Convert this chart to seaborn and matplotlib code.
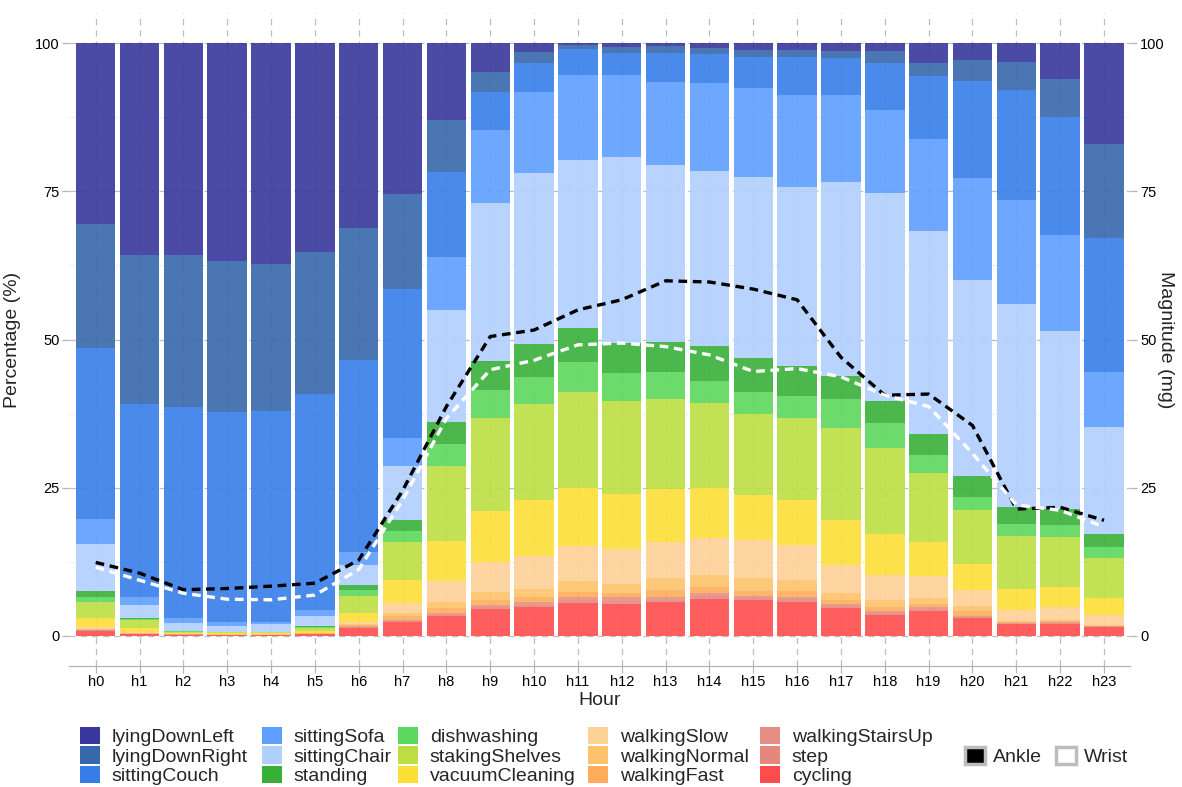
import matplotlib
matplotlib.use("Agg")
import matplotlib.pyplot as plt
from matplotlib.patches import Patch
from matplotlib.ticker import MultipleLocator
import pandas as pd
import seaborn as sns

# ---- data -------------------------------------------------------------
hour_labels = [f"h{i}" for i in range(24)]
hour_idx = list(range(24))

lyingDownLeft = [30.5, 35.7, 35.8, 36.7, 37.3, 35.2, 31.2, 25.4, 13.0, 4.8, 1.5, 0.4,
                 0.7, 0.5, 0.8, 1.2, 1.2, 1.3, 1.4, 3.3, 2.9, 3.2, 6.1, 17.0]
lyingDownRight = [20.9, 25.1, 25.6, 25.6, 24.8, 24.0, 22.3, 16.1, 8.8, 3.5, 1.9, 0.6,
                  1.0, 1.2, 1.1, 1.2, 1.2, 1.3, 1.9, 2.3, 3.5, 4.7, 6.4, 15.9]
sittingCouch = [28.9, 32.7, 35.5, 35.3, 35.5, 36.4, 32.3, 25.1, 14.3, 6.4, 4.9, 4.4,
                3.7, 4.8, 4.8, 5.2, 6.4, 6.1, 8.0, 10.6, 16.4, 18.6, 19.9, 22.5]
sittingSofa = [4.2, 1.3, 0.9, 0.8, 0.4, 1.0, 2.2, 4.7, 8.9, 12.3, 13.6, 14.3,
               13.8, 14.1, 14.9, 15.0, 15.5, 14.7, 14.0, 15.5, 17.2, 17.5, 16.2, 9.4]
sittingChair = [7.9, 2.1, 1.3, 0.9, 1.25, 1.7, 3.4, 9.1, 18.9, 26.6, 28.9, 28.4,
                31.4, 29.8, 29.5, 30.6, 30.2, 32.8, 35.1, 34.2, 33.0, 34.2, 30.0, 18.0]
standing = [1.0, 0.2, 0.08, 0.05, 0.1, 0.2, 0.8, 1.9, 3.7, 5.0, 5.6, 5.7,
            5.1, 5.1, 5.9, 5.7, 5.0, 3.9, 3.6, 3.5, 3.6, 2.9, 2.7, 2.2]
dishwashing = [0.8, 0.2, 0.07, 0.05, 0.05, 0.1, 1.0, 1.8, 3.7, 4.6, 4.5, 5.0,
               4.6, 4.5, 3.7, 3.7, 3.7, 4.8, 4.3, 3.1, 2.1, 2.0, 2.0, 1.8]
stakingShelves = [2.8, 1.4, 0.2, 0.15, 0.15, 0.5, 2.9, 6.5, 12.7, 15.8, 16.2, 16.2,
                  15.8, 15.2, 14.3, 13.7, 13.9, 15.6, 14.5, 11.6, 9.2, 9.0, 8.5, 6.8]
vacuumCleaning = [1.5, 0.6, 0.15, 0.12, 0.12, 0.35, 1.5, 3.9, 6.8, 8.6, 9.4, 9.8,
                  9.2, 8.9, 8.4, 7.6, 7.6, 7.5, 7.0, 5.8, 4.3, 3.5, 3.4, 2.9]
walkingSlow = [0.25, 0.15, 0.08, 0.06, 0.06, 0.07, 0.35, 1.65, 3.4, 5.0, 5.5, 5.9,
               5.9, 6.1, 6.3, 6.3, 5.9, 4.75, 4.1, 3.7, 2.8, 1.8, 2.1, 1.6]
walkingNormal = [0.15, 0.1, 0.04, 0.04, 0.04, 0.06, 0.25, 0.5, 1.1, 1.4, 1.5, 1.9,
                 1.6, 2.0, 2.0, 2.2, 1.9, 1.25, 1.2, 1.0, 0.8, 0.2, 0.2, 0.15]
walkingFast = [0.1, 0.05, 0.03, 0.03, 0.03, 0.05, 0.2, 0.7, 0.8, 0.8, 0.7, 0.8,
               0.7, 1.2, 1.0, 0.8, 0.9, 0.55, 0.7, 0.6, 0.8, 0.2, 0.15, 0.15]
walkingStairsUp = [0.05, 0.05, 0.02, 0.02, 0.02, 0.03, 0.1, 0.2, 0.4, 0.4, 0.6, 0.6,
                   0.6, 0.5, 0.6, 0.4, 0.4, 0.35, 0.35, 0.3, 0.15, 0.1, 0.15, 0.05]
step = [0.05, 0.05, 0.03, 0.03, 0.03, 0.04, 0.1, 0.15, 0.2, 0.3, 0.3, 0.4,
        0.5, 0.3, 0.4, 0.3, 0.5, 0.4, 0.35, 0.3, 0.15, 0.1, 0.1, 0.05]
cycling = [0.9, 0.3, 0.2, 0.15, 0.15, 0.3, 1.4, 2.3, 3.3, 4.5, 4.9, 5.6,
           5.4, 5.8, 6.3, 6.1, 5.7, 4.7, 3.5, 4.2, 3.1, 2.0, 2.1, 1.5]

# mean acceleration magnitude per hour (mg)
ankle = [12.4, 10.6, 7.8, 8.0, 8.4, 8.9, 12.8, 24.5, 38.7, 50.5, 51.6, 55.0,
         56.7, 59.9, 59.7, 58.5, 56.7, 47.0, 40.6, 40.8, 35.5, 21.4, 21.7, 19.5]
wrist = [11.6, 9.4, 7.2, 6.2, 6.1, 6.9, 11.2, 22.9, 36.7, 44.9, 46.5, 49.1,
         49.4, 48.8, 47.4, 44.6, 45.1, 43.7, 40.6, 38.7, 30.8, 22.1, 21.2, 18.4]

activities = ["lyingDownLeft", "lyingDownRight", "sittingCouch", "sittingSofa",
              "sittingChair", "standing", "dishwashing", "stakingShelves",
              "vacuumCleaning", "walkingSlow", "walkingNormal", "walkingFast",
              "walkingStairsUp", "step", "cycling"]
series = [lyingDownLeft, lyingDownRight, sittingCouch, sittingSofa, sittingChair,
          standing, dishwashing, stakingShelves, vacuumCleaning, walkingSlow,
          walkingNormal, walkingFast, walkingStairsUp, step, cycling]
colors = ["#37379c", "#3668ac", "#367de8", "#5e9efe", "#b1cffd",
          "#38b038", "#5cd85c", "#bdde42", "#fdde36", "#fed196",
          "#fec26b", "#feac59", "#e58f84", "#e6877d", "#fe4c4c"]
palette = dict(zip(activities, colors))

df = pd.DataFrame(
    [{"hour": h, "activity": name, "pct": v}
     for name, vals in zip(activities, series)
     for h, v in zip(hour_idx, vals)]
)

# ---- styling ----------------------------------------------------------
sns.set_theme(style="white")
plt.rcParams["font.family"] = ["Liberation Sans", "DejaVu Sans"]

W, H = 1182, 787
fig = plt.figure(figsize=(W / 100, H / 100), dpi=100)
ax = fig.add_axes([69.4 / W, 1 - 665.6 / H, (1130.3 - 69.4) / W, (665.6 - 13.4) / H])

sns.histplot(data=df, x="hour", weights="pct", hue="activity",
             hue_order=activities, palette=palette, multiple="stack",
             discrete=True, shrink=0.9, alpha=0.9, linewidth=0,
             legend=False, ax=ax)

ax.set_xlim(-0.6, 23.6)
ax.set_ylim(-5, 105)
ax.set_xticks(hour_idx)
ax.set_xticklabels(hour_labels)
ax.set_yticks([0, 25, 50, 75, 100])
ax.yaxis.set_minor_locator(MultipleLocator(12.5))
ax.set_axisbelow(True)
ax.grid(which="major", axis="both", linestyle=(0, (5, 4)), color="#bdbdbd", lw=0.9)
ax.grid(which="minor", axis="y", linestyle=(0, (1, 2)), color="#d8d8d8", lw=0.8)

grey = "#b5b5b5"
for side in ("top", "left", "right"):
    ax.spines[side].set_visible(False)
ax.spines["bottom"].set_color(grey)
ax.spines["bottom"].set_linewidth(0.9)
ax.tick_params(axis="both", which="major", length=5, width=0.9, color=grey,
               labelsize=10.5, labelcolor="black", pad=2, bottom=True, left=True)
ax.tick_params(which="minor", length=0)

ax.set_xlabel("Hour", fontsize=14, labelpad=2)
ax.set_ylabel("Percentage (%)", fontsize=14)
ax.yaxis.set_label_coords(-0.046, 0.5)

# ---- magnitude lines on secondary axis -------------------------------
ax2 = ax.twinx()
sns.lineplot(x=hour_idx, y=ankle, ax=ax2, color="black", lw=2.4,
             linestyle=(0, (2.6, 1.7)))
sns.lineplot(x=hour_idx, y=wrist, ax=ax2, color="white", lw=2.4,
             linestyle=(0, (2.6, 1.7)))
ax2.set_ylim(-5, 105)
ax2.set_yticks([0, 25, 50, 75, 100])
for side in ("top", "left", "right", "bottom"):
    ax2.spines[side].set_visible(False)
ax2.tick_params(axis="y", length=5, width=0.9, color=grey, labelsize=10.5,
                labelcolor="black", pad=2, right=True)
ax2.set_ylabel("Magnitude (mg)", fontsize=14, rotation=270, va="center")
ax2.yaxis.set_label_coords(1.0335, 0.5)

# ---- legends -----------------------------------------------------------
col_x = [80, 262, 398, 588, 760]
leg_kw = dict(loc="upper left", frameon=False, fontsize=14, borderpad=0,
              borderaxespad=0, handlelength=1.03, handleheight=1.0,
              handletextpad=0.6, labelspacing=0.0)
for c, x0 in enumerate(col_x):
    names = activities[3 * c:3 * c + 3]
    handles = [Patch(facecolor=palette[n], edgecolor="none") for n in names]
    fig.legend(handles, names, bbox_to_anchor=(x0 / W, 1 - 727 / H), **leg_kw)

line_handles = [Patch(facecolor="black", edgecolor="#bdbdbd", linewidth=2.5),
                Patch(facecolor="white", edgecolor="#bdbdbd", linewidth=2.5)]
fig.legend(line_handles, ["Ankle", "Wrist"], ncol=2, columnspacing=0.75,
           bbox_to_anchor=(965 / W, 1 - 747 / H),
           **{**leg_kw, "handletextpad": 0.4})

fig.savefig("out.png", dpi=100)
